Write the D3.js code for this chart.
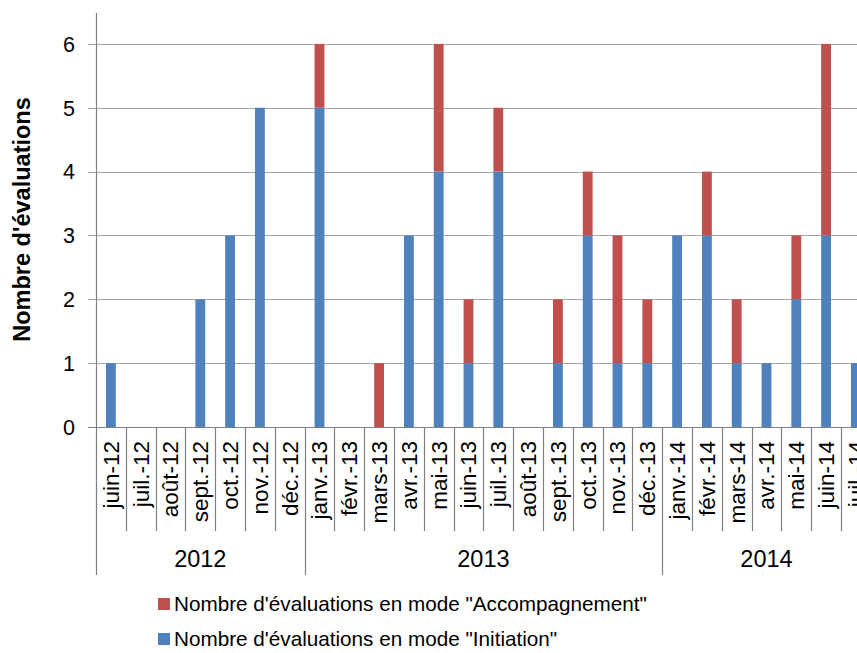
<!DOCTYPE html>
<html>
<head>
<meta charset="utf-8">
<script src="https://cdn.jsdelivr.net/npm/d3@7/dist/d3.min.js"></script>
<style>
  html, body { margin: 0; padding: 0; background: #fff; overflow: hidden; }
  svg { display: block; font-family: "Liberation Sans", Arial, sans-serif; }
</style>
</head>
<body>
<svg id="chart" width="857" height="653"></svg>
<script>
// Monthly categories, grouped by year
const months = ["juin-12","juil.-12","août-12","sept.-12","oct.-12","nov.-12","déc.-12",
  "janv.-13","févr.-13","mars-13","avr.-13","mai-13","juin-13","juil.-13","août-13","sept.-13","oct.-13","nov.-13","déc.-13",
  "janv.-14","févr.-14","mars-14","avr.-14","mai-14","juin-14","juil.-14"];
const years = ["2012","2013","2014"];
const yearOfMonth = months.map(m => "20" + m.slice(-2));

// Evaluations per month, by mode
const initiation =     [1,0,0,2,3,5,0, 5,0,0,3,4,1,4,0,1,3,1,1, 3,3,1,1,2,3,1];
const accompagnement = [0,0,0,0,0,0,0, 1,0,1,0,2,1,1,0,1,1,2,1, 0,1,1,0,1,3,0];

const yTicks = [0,1,2,3,4,5,6];
const seriesNames = ['Nombre d\'évaluations en mode "Accompagnement"', 'Nombre d\'évaluations en mode "Initiation"'];
const colors = { initiation: "#4F81BD", accompagnement: "#C0504D" };

const svg = d3.select("#chart");
const left = 96, zeroY = 427, topY = 12;
const step = 29.8;

const x = d3.scaleBand().domain(months).range([left, left + step * months.length]).padding(0);
const y = d3.scaleLinear().domain([0, 6.5]).range([zeroY, topY]);

// horizontal gridlines with short outward ticks
svg.append("g").selectAll("line").data(yTicks).join("line")
  .attr("x1", left - 8).attr("x2", 900)
  .attr("y1", d => Math.round(y(d)) + 0.5).attr("y2", d => Math.round(y(d)) + 0.5)
  .attr("stroke", d => d === 0 ? "#808080" : "#a6a6a6").attr("stroke-width", 1.2);

// y tick labels
svg.append("g").selectAll("text").data(yTicks).join("text")
  .attr("x", 75).attr("y", d => y(d))
  .attr("dy", "0.36em").attr("text-anchor", "end")
  .attr("font-size", 21.5).attr("fill", "#000")
  .text(d => d);

// y axis title
svg.append("text")
  .attr("transform", `translate(30,${(zeroY + topY) / 2}) rotate(-90)`)
  .attr("text-anchor", "middle")
  .attr("font-size", 23.5).attr("font-weight", "bold")
  .text("Nombre d'évaluations");

// stacked bars
const stackData = months.map((m, i) => ({ month: m, initiation: initiation[i], accompagnement: accompagnement[i] }));
const stack = d3.stack().keys(["initiation", "accompagnement"])(stackData);
const barW = step * 0.33;
svg.append("g").selectAll("g").data(stack).join("g")
  .attr("fill", s => colors[s.key])
  .selectAll("rect").data(s => s.filter(d => d[1] > d[0])).join("rect")
  .attr("x", d => x(d.data.month) + x.bandwidth() / 2 - barW / 2)
  .attr("width", barW)
  .attr("y", d => y(d[1]))
  .attr("height", d => y(d[0]) - y(d[1]));

// y axis line (continues down as the left border of the category axis)
svg.append("line")
  .attr("x1", left + 0.5).attr("x2", left + 0.5)
  .attr("y1", topY + 1).attr("y2", 575)
  .attr("stroke", "#808080").attr("stroke-width", 1.2);

// month separators and year separators
const bounds = d3.range(1, months.length + 1);
svg.append("g").selectAll("line").data(bounds).join("line")
  .attr("x1", i => Math.round(left + i * step) + 0.5).attr("x2", i => Math.round(left + i * step) + 0.5)
  .attr("y1", zeroY)
  .attr("y2", i => (i < months.length && yearOfMonth[i] !== yearOfMonth[i - 1]) ? 575 : 531)
  .attr("stroke", "#808080").attr("stroke-width", 1.2);

// month labels
svg.append("g").selectAll("text").data(months).join("text")
  .attr("transform", m => `translate(${x(m) + x.bandwidth() / 2},441) rotate(-90)`)
  .attr("text-anchor", "end").attr("dy", "0.35em")
  .attr("font-size", 22.5)
  .text(m => m);

// year labels centred under their months
svg.append("g").selectAll("text").data(years).join("text")
  .attr("x", yr => {
    const idx = months.map((m, i) => i).filter(i => yearOfMonth[i] === yr);
    return left + (idx[0] + idx[idx.length - 1] + 1) / 2 * step;
  })
  .attr("y", 567).attr("text-anchor", "middle")
  .attr("font-size", 23.5)
  .text(yr => yr);

// legend
const legend = svg.append("g").selectAll("g")
  .data([{ name: seriesNames[0], color: colors.accompagnement }, { name: seriesNames[1], color: colors.initiation }])
  .join("g").attr("transform", (d, i) => `translate(158,${598 + i * 35})`);
legend.append("rect").attr("width", 12).attr("height", 12).attr("fill", d => d.color);
legend.append("text").attr("x", 16).attr("y", 13)
  .attr("font-size", 20.7).text(d => d.name);
</script>
</body>
</html>
